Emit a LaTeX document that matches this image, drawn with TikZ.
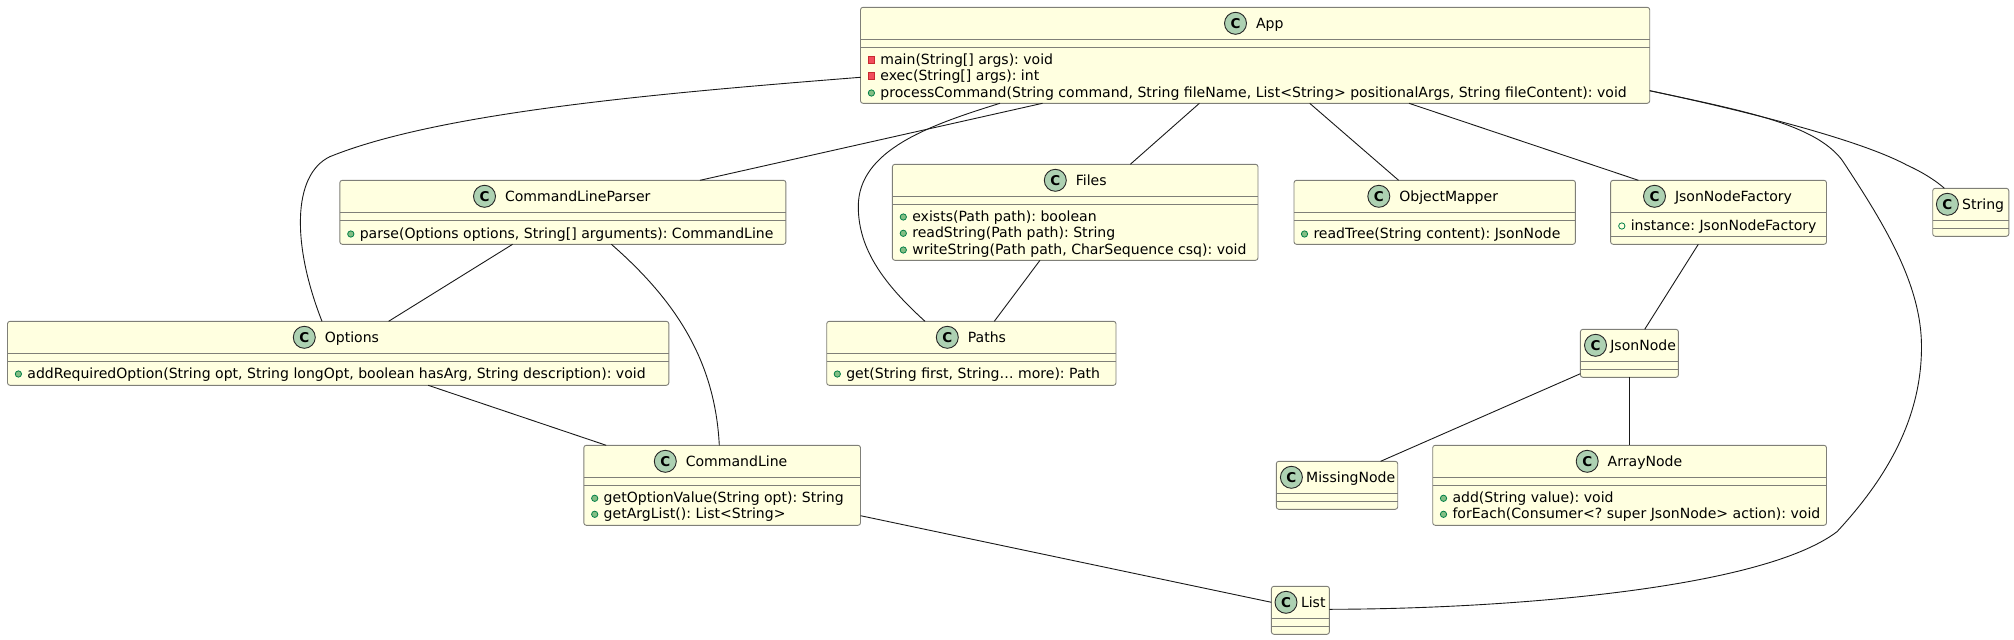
\documentclass[tikz,border=0pt]{standalone}
\usepackage{fontspec}
\setmainfont{DejaVu Sans}
\usetikzlibrary{positioning}
\frenchspacing

\definecolor{boxfill}{HTML}{FFFFE0}
\definecolor{boxline}{HTML}{7F7F78}
\definecolor{iconfill}{HTML}{ADD1B2}
\definecolor{pubfill}{HTML}{84BE84}
\definecolor{publine}{HTML}{038048}
\definecolor{privfill}{HTML}{F24D5C}
\definecolor{privline}{HTML}{C82930}

% name, left, top, right, bottom, two dividers, icon x, gap to title
\newcommand{\umlclass}[9]{
  \node[classbox, minimum width={(#4-#2)*1pt}, minimum height={(#5-#3)*1pt}]
    (#1) at ({(#2+#4)/2},{(#3+#5)/2}) {};
  \draw[divider] (#1.west |- 0,#6) -- (#1.east |- 0,#6);
  \draw[divider] (#1.west |- 0,#7) -- (#1.east |- 0,#7);
  \node[classicon] (#1-icon) at (#8,{#3+16}) {C};
  \node[classtitle, right=#9 of #1-icon.center] (#1-title) {#1};
}
% name, mark style, x, y, text
\newcommand{\member}[5]{
  \node[#2] (#1-mark) at (#3,#4) {};
  \node[membertext, right=9pt of #1-mark.center] (#1) {#5};
}

\begin{document}
\begin{tikzpicture}
  [x=1pt, y=-1pt, font=\fontsize{14.05}{16}\selectfont,
   classbox/.style={draw=boxline, fill=boxfill, rounded corners=2.5pt, line width=0.9pt, inner sep=0pt, outer sep=0pt},
   divider/.style={draw=boxline, line width=0.9pt},
   classicon/.style={circle, draw=black!85, fill=iconfill, line width=0.9pt, minimum size=22pt, inner sep=0pt, font=\fontsize{13.5}{16}\selectfont\bfseries},
   classtitle/.style={inner sep=0pt, outer sep=0pt, text height=11.7pt, text depth=2.3pt},
   membertext/.style={inner sep=0pt, outer sep=0pt, text height=11.2pt, text depth=2.8pt},
   pubmark/.style={circle, draw=publine, fill=pubfill, line width=0.8pt, minimum size=6.3pt, inner sep=0pt},
   fieldmark/.style={circle, draw=publine, line width=0.8pt, minimum size=6.3pt, inner sep=0pt},
   privmark/.style={rectangle, draw=privline, fill=privfill, line width=0.8pt, minimum size=6.6pt, inner sep=0pt},
   assoc/.style={draw=black!90, line width=0.9pt}]
  \useasboundingbox (0,0) rectangle (2014,640);

  \umlclass{App}{860.5}{7.3}{1649.7}{103.3}{39.3}{47.3}{1235.5}{20.5pt}
  \member{App-m1}{privmark}{871.4}{60}{main(String[] args): void}
  \member{App-m2}{privmark}{871.4}{76}{exec(String[] args): int}
  \member{App-m3}{pubmark}{871.4}{93}{processCommand(String command, String fileName, List<String> positionalArgs, String fileContent): void}

  \umlclass{CommandLineParser}{339.8}{180.3}{785.9}{244.3}{212.3}{220.3}{484.5}{20.5pt}
  \member{CommandLineParser-m1}{pubmark}{350.8}{234}{parse(Options options, String[] arguments): CommandLine}

  \umlclass{Files}{892.4}{164.3}{1258}{260.3}{196.3}{204.3}{1055.3}{20.5pt}
  \member{Files-m1}{pubmark}{903.3}{217}{exists(Path path): boolean}
  \member{Files-m2}{pubmark}{903.3}{233.3}{readString(Path path): String}
  \member{Files-m3}{pubmark}{903.3}{250}{writeString(Path path, CharSequence csq): void}

  \umlclass{ObjectMapper}{1294}{180.3}{1575.4}{244.3}{212.3}{220.3}{1378.8}{20.5pt}
  \member{ObjectMapper-m1}{pubmark}{1304.5}{234}{readTree(String content): JsonNode}

  \umlclass{JsonNodeFactory}{1610.6}{180.3}{1826.5}{244.3}{212.3}{236.3}{1654.5}{20.5pt}
  \member{JsonNodeFactory-m1}{fieldmark}{1621.8}{226}{instance: JsonNodeFactory}

  \umlclass{String}{1932.7}{188.3}{2008.8}{236.3}{220.3}{228.3}{1947.4}{14.8pt}

  \umlclass{Options}{7.5}{321.3}{668.8}{385.3}{353.3}{361.3}{304.3}{20.5pt}
  \member{Options-m1}{pubmark}{18.4}{374}{addRequiredOption(String opt, String longOpt, boolean hasArg, String description): void}

  \umlclass{Paths}{826.7}{321.3}{1116}{385.3}{353.3}{361.3}{947.3}{20.5pt}
  \member{Paths-m1}{pubmark}{837.3}{374}{get(String first, String… more): Path}

  \umlclass{JsonNode}{1580.4}{329.3}{1678.4}{377.3}{361.3}{369.3}{1595.5}{14.8pt}

  \umlclass{CommandLine}{583.8}{445.3}{860.5}{525.3}{477.3}{485.3}{665.3}{20.5pt}
  \member{CommandLine-m1}{pubmark}{594.7}{498.3}{getOptionValue(String opt): String}
  \member{CommandLine-m2}{pubmark}{594.7}{514.3}{getArgList(): List<String>}

  \umlclass{MissingNode}{1276.3}{461.3}{1397.7}{509.3}{493.3}{501.3}{1291.4}{14.8pt}

  \umlclass{ArrayNode}{1432.7}{445.3}{1826.5}{525.3}{477.3}{485.3}{1587.2}{20.5pt}
  \member{ArrayNode-m1}{pubmark}{1443.5}{498.3}{add(String value): void}
  \member{ArrayNode-m2}{pubmark}{1443.5}{514.3}{forEach(Consumer<? super JsonNode> action): void}

  \umlclass{List}{1271.4}{586.3}{1329.4}{634.3}{618.3}{626.3}{1286}{15pt}

  % connectors
  \draw[assoc] (App.west |- 0,77.3) .. controls (662,93) and (440,112) .. (329.8,156.7)
    .. controls (292,175) and (292,245) .. ([xshift=314.5pt]Options.north west);
  \draw[assoc] ([xshift=182pt]App.south west) -- ([xshift=360.2pt]CommandLineParser.north west);
  \draw[assoc] ([xshift=139.5pt]App.south west) .. controls (930,125) and (858,150) .. (858.3,206.7)
    .. controls (858.3,250) and (885,285) .. ([xshift=98.3pt]Paths.north west);
  \draw[assoc] ([xshift=338.9pt]App.south west) -- ([xshift=237.9pt]Files.north west);
  \draw[assoc] ([xshift=449.2pt]App.south west) -- ([xshift=104.6pt]ObjectMapper.north west);
  \draw[assoc] ([xshift=548.5pt]App.south west) -- ([xshift=27.8pt]JsonNodeFactory.north west);
  \draw[assoc] (App.east |- 0,90.7) .. controls (1750,112) and (1860,140) .. (1906.7,165)
    .. controls (1922,172) and (1935,180) .. ([xshift=11.7pt]String.north west);
  \draw[assoc] (App.east |- 0,90.7) .. controls (1750,112) and (1815,125) .. (1842,160)
    .. controls (1885,225) and (1921.5,285) .. (1921.5,346.7)
    .. controls (1921.5,420) and (1885,480) .. (1837,531.7)
    .. controls (1760,590) and (1500,609) .. (List.east |- 0,609.3);
  \draw[assoc] ([xshift=172.8pt]CommandLineParser.south west) -- ([xshift=381.1pt]Options.north west);
  \draw[assoc] ([xshift=271.6pt]CommandLineParser.south west) .. controls (675,300) and (715,360)
    .. ([xshift=135.5pt]CommandLine.north west);
  \draw[assoc] ([xshift=420.7pt]Options.south west) -- ([xshift=22.4pt]CommandLine.north west);
  \draw[assoc] ([xshift=147.6pt]Files.south west) -- ([xshift=167.6pt]Paths.north west);
  \draw[assoc] (CommandLine.east |- 0,515.7) -- (List.west |- 0,602.3);
  \draw[assoc] ([xshift=87.7pt]JsonNodeFactory.south west) -- ([xshift=64.3pt]JsonNode.north west);
  \draw[assoc] (JsonNode.west |- 0,373.7) -- ([xshift=104.3pt]MissingNode.north west);
  \draw[assoc] (JsonNode.south) -- (JsonNode.south |- ArrayNode.north);
\end{tikzpicture}
\end{document}
